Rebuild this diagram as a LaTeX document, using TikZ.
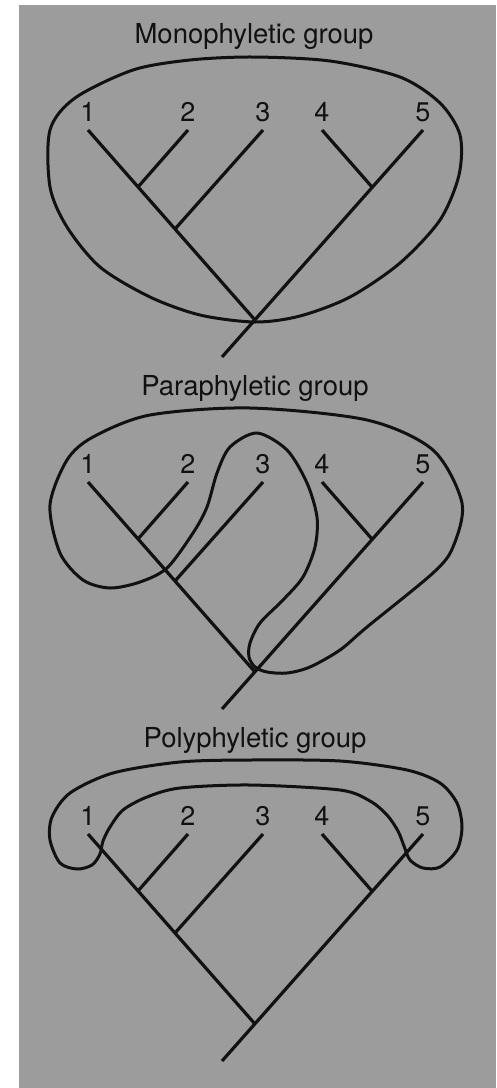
\documentclass[tikz,border=0pt]{standalone}
\usepackage{fontspec}
\setmainfont{TeX Gyre Heros}
\usepackage{tikz}
\usetikzlibrary{positioning}

\definecolor{paper}{HTML}{9C9C9C}
\definecolor{ink}{HTML}{111111}

\tikzset{
  branch/.style={draw=ink, line width=3.2pt},
  group line/.style={draw=ink, line width=3pt},
  tip label/.style={inner sep=0pt, text=ink, font=\fontsize{27}{32}\selectfont},
  group title/.style={inner sep=0pt, anchor=base, text=ink, font=\fontsize{27.5}{32}\selectfont}
}

% the same five-taxon tree in every panel
\newcommand{\cladetree}{%
  \coordinate (root) at (255,320);
  \coordinate (stem) at (222,357);
  \coordinate (t1) at (88,130);
  \coordinate (t2) at (188,130);
  \coordinate (t3) at (263,130);
  \coordinate (t4) at (322,130);
  \coordinate (t5) at (423,130);
  \coordinate (n12) at (138,187);
  \coordinate (n123) at (175,229);
  \coordinate (n45) at (372,187);
  \foreach \i in {1,...,5}
    \node[tip label, above=8pt of t\i] (l\i) {\i};
  \draw[branch] (t1) -- (root);
  \draw[branch] (t5) -- (stem);
  \draw[branch] (t2) -- (n12);
  \draw[branch] (t3) -- (n123);
  \draw[branch] (t4) -- (n45);
}

\begin{document}
\begin{tikzpicture}[x=1pt,y=-1pt]

\useasboundingbox (0,0) rectangle (496,1088);
\fill[white] (0,0) rectangle (496,1088);
\fill[paper] (19,5) rectangle (496,1088);

% monophyletic
\begin{scope}
  \node[group title] (mono) at (254,43) {Monophyletic group};
  \cladetree
  \draw[group line] plot[smooth cycle] coordinates {
    (253,57) (330,61) (400,77) (440,103) (460,135) (459,175) (440,220)
    (400,263) (350,297) (300,316) (255,322) (200,315) (150,297) (100,267)
    (67,227) (50,187) (50,130) (75,98) (133,70) (190,60)};
\end{scope}

% paraphyletic
\begin{scope}[yshift=-352pt]
  \node[group title] (para) at (255,43) {Paraphyletic group};
  \cladetree
  \draw[group line] plot[smooth cycle] coordinates {
    (250,56) (367,68) (433,98) (462,151) (453,195) (433,221) (367,275)
    (340,298) (310,315) (287,321) (267,320) (255,315) (249,305) (250,291)
    (260,271) (283,248) (303,225) (315,195) (317,165) (307,131) (287,98)
    (257,81) (230,95) (217,121) (207,155) (193,181) (167,216) (140,230)
    (110,236) (83,228) (60,201) (50,153) (67,108) (93,85) (150,63)};
\end{scope}

% polyphyletic
\begin{scope}[yshift=-704pt]
  \node[group title] (poly) at (255,43) {Polyphyletic group};
  \cladetree
  \draw[group line] plot[smooth cycle] coordinates {
    (250,56) (340,57) (407,66) (440,79) (457,99) (462,123) (457,146)
    (440,163) (423,164) (410,156) (404,142) (398,127) (387,111) (370,97)
    (340,86) (250,81) (180,84) (147,93) (123,106) (110,123) (103,137)
    (100,150) (92,161) (77,165) (60,159) (50,136) (52,113) (70,89)
    (113,69) (180,58)};
\end{scope}

\end{tikzpicture}
\end{document}
